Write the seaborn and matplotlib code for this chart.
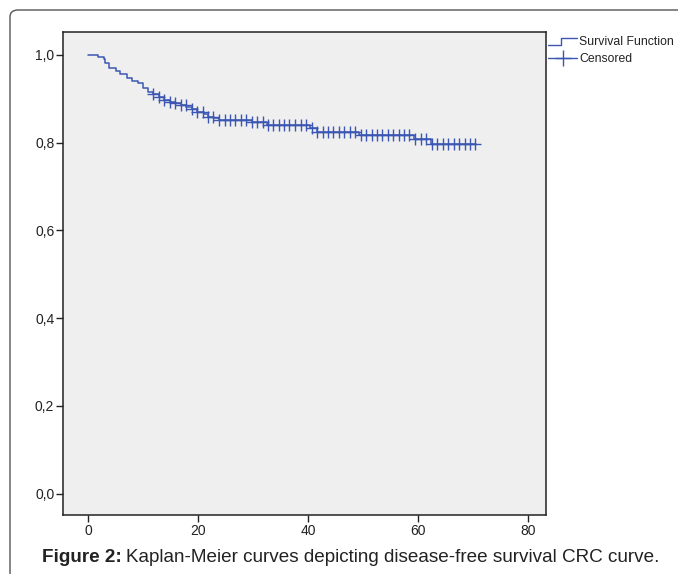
import numpy as np
import pandas as pd
import seaborn as sns
import matplotlib.pyplot as plt
from matplotlib.lines import Line2D
from matplotlib.legend_handler import HandlerBase
from matplotlib.patches import FancyBboxPatch


# step points of the Kaplan-Meier curve (months, cumulative survival)
event_times = [0.0, 1.9, 2.9, 3.0, 3.9, 5.0, 5.9, 7.0, 8.0, 9.0, 10.0, 10.9,
               11.8, 12.9, 13.8, 14.9, 15.8, 16.9, 17.9, 18.9, 19.9, 21.0,
               21.9, 22.9, 23.9, 29.8, 32.6, 40.4, 41.6, 49.3, 59.3, 62.3, 70.5]
survival = [1.000, 0.995, 0.990, 0.982, 0.970, 0.964, 0.957, 0.947, 0.941,
            0.935, 0.924, 0.916, 0.910, 0.904, 0.897, 0.893, 0.890, 0.886,
            0.882, 0.876, 0.871, 0.865, 0.859, 0.856, 0.852, 0.848, 0.840,
            0.833, 0.824, 0.818, 0.808, 0.796, 0.796]

# censored observations (months)
censored_times = [11.9, 12.9, 13.9, 14.9, 15.9, 16.9, 17.8, 18.9, 19.9, 20.9,
                  21.9, 22.8, 23.9, 24.9, 25.8, 26.8, 27.8, 28.7, 29.8, 30.7,
                  31.8, 32.8, 33.7, 34.7, 35.7, 36.6, 37.6, 38.7, 39.6, 40.7,
                  41.6, 42.7, 43.7, 44.6, 45.6, 46.6, 47.6, 48.5, 49.6, 50.5,
                  51.6, 52.5, 53.5, 54.5, 55.5, 56.5, 57.5, 58.4, 59.5, 60.5,
                  61.5, 62.5, 63.5, 64.5, 65.5, 66.5, 67.5, 68.5, 69.5, 70.4]

x_ticks = [0, 20, 40, 60, 80]
y_ticks = [0.0, 0.2, 0.4, 0.6, 0.8, 1.0]
y_tick_labels = ["0,0", "0,2", "0,4", "0,6", "0,8", "1,0"]

line_color = "#3c57b3"
text_color = "#222222"

sns.set_theme(style="white")
plt.rcParams["font.family"] = ["Liberation Sans", "DejaVu Sans"]

curve = pd.DataFrame({"time": event_times, "surv": survival})
idx = np.searchsorted(event_times, censored_times, side="right") - 1
cens = pd.DataFrame({"time": censored_times,
                     "surv": np.array(survival)[idx]})

fig = plt.figure(figsize=(6.78, 5.74), dpi=100)
ax = fig.add_axes([0.0934, 0.1028, 0.712, 0.8415])
ax.set_facecolor("#efefef")

sns.lineplot(data=curve, x="time", y="surv", drawstyle="steps-post",
             color=line_color, linewidth=1.1, ax=ax)
sns.scatterplot(data=cens, x="time", y="surv", marker="+", s=70,
                color=line_color, linewidth=1.0, ax=ax, zorder=3)

ax.set_xlim(-4.49, 83.27)
ax.set_ylim(-0.049, 1.0525)
ax.set_xticks(x_ticks)
ax.set_xticklabels([str(v) for v in x_ticks])
ax.set_yticks(y_ticks)
ax.set_yticklabels(y_tick_labels)
ax.set_xlabel("")
ax.set_ylabel("")
ax.tick_params(axis="both", direction="out", length=5, width=1,
               color="#222222", labelsize=10, labelcolor=text_color,
               bottom=True, left=True, pad=1.5)
for sp in ax.spines.values():
    sp.set_color("#222222")
    sp.set_linewidth(1.1)


class StepHandler(HandlerBase):
    def create_artists(self, legend, orig_handle, xdescent, ydescent,
                       width, height, fontsize, trans):
        xs = [0, width * 0.45, width * 0.45, width]
        ys = [0.1 * height, 0.1 * height, 0.85 * height, 0.85 * height]
        ln = Line2D(xs, ys, color=line_color, linewidth=1.0, transform=trans)
        return [ln]


step_handle = Line2D([], [], color=line_color)
cens_handle = Line2D([], [], color=line_color, marker="+", markersize=11,
                     linewidth=1.0)
leg = fig.legend([step_handle, cens_handle], ["Survival Function", "Censored"],
                 handler_map={step_handle: StepHandler()},
                 loc="upper left", bbox_to_anchor=(546 / 678, 1 - 34 / 574),
                 frameon=False, fontsize=8.8, handlelength=2.3,
                 handletextpad=0.2, labelspacing=0.4, borderpad=0.2,
                 borderaxespad=0)
for t in leg.get_texts():
    t.set_color(text_color)

# outer rounded frame
frame = FancyBboxPatch((10 / 678, -0.2), 1.2, 1.2 - 10 / 574,
                       boxstyle="round,pad=0,rounding_size=0.012",
                       transform=fig.transFigure, fill=False,
                       edgecolor="#555555", linewidth=1.0)
fig.patches.append(frame)

# caption
cap_y = 1 - 557 / 574
t1 = fig.text(42 / 678, cap_y, "Figure 2:", fontsize=13.6, weight="bold",
              va="center", ha="left", color=text_color)
fig.canvas.draw()
bb = t1.get_window_extent()
fig.text(bb.x1 / fig.bbox.width + 0.006, cap_y,
         "Kaplan-Meier curves depicting disease-free survival CRC curve.",
         fontsize=13.6, va="center", ha="left", color=text_color)

fig.savefig("out.png", dpi=100)
